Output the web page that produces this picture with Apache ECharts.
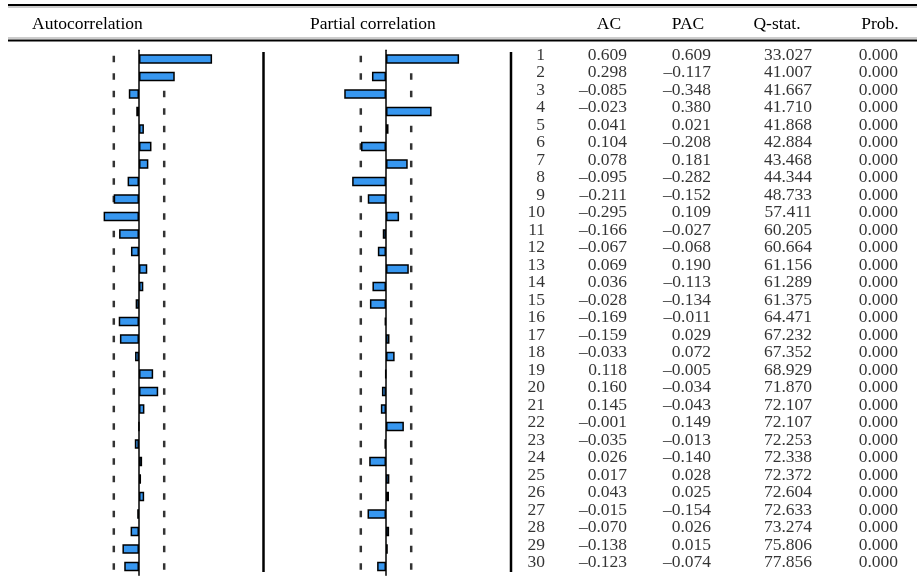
<!DOCTYPE html>
<html>
<head>
<meta charset="utf-8">
<script src="https://cdn.jsdelivr.net/npm/echarts@6/dist/echarts.min.js"></script>
<style>
html,body{margin:0;padding:0;background:#fff;}
#chart{width:917px;height:578px;}
</style>
</head>
<body>
<div id="chart"></div>
<script>
// ---- data ----
const lags = [1,2,3,4,5,6,7,8,9,10,11,12,13,14,15,16,17,18,19,20,21,22,23,24,25,26,27,28,29,30];
// printed AC column
const acValues = [0.609,0.298,-0.085,-0.023,0.041,0.104,0.078,-0.095,-0.211,-0.295,-0.166,-0.067,0.069,0.036,-0.028,-0.169,-0.159,-0.033,0.118,0.160,0.145,-0.001,-0.035,0.026,0.017,0.043,-0.015,-0.070,-0.138,-0.123];
// AC bars as drawn in the picture (lag 21 bar is short)
const acBarValues = [0.609,0.298,-0.085,-0.023,0.041,0.104,0.078,-0.095,-0.211,-0.295,-0.166,-0.067,0.069,0.036,-0.028,-0.169,-0.159,-0.033,0.118,0.160,0.045,-0.001,-0.035,0.026,0.017,0.043,-0.015,-0.070,-0.138,-0.123];
const pacValues = [0.609,-0.117,-0.348,0.380,0.021,-0.208,0.181,-0.282,-0.152,0.109,-0.027,-0.068,0.190,-0.113,-0.134,-0.011,0.029,0.072,-0.005,-0.034,-0.043,0.149,-0.013,-0.140,0.028,0.025,-0.154,0.026,0.015,-0.074];
const qStat = [33.027,41.007,41.667,41.710,41.868,42.884,43.468,44.344,48.733,57.411,60.205,60.664,61.156,61.289,61.375,64.471,67.232,67.352,68.929,71.870,72.107,72.107,72.253,72.338,72.372,72.604,72.633,73.274,75.806,77.856];
const probValues = [0,0,0,0,0,0,0,0,0,0,0,0,0,0,0,0,0,0,0,0,0,0,0,0,0,0,0,0,0,0];
const confBound = 0.21;
const panelTitles = ['Autocorrelation','Partial correlation'];
const colHeaders = ['AC','PAC','Q-stat.','Prob.'];

// ---- layout/style ----
const FONT = 'Liberation Serif';
const FS = 17.5;
const BLUE = '#3797f0';
const rowPitch = 17.5;
const barTop = 50.25, textTop = 46.25;
const gridH = rowPitch * lags.length;

function fmt(v){ const s = v.toFixed(3); return s.charAt(0)==='-' ? '\u2013' + s.slice(1) : s; }

const chart = echarts.init(document.getElementById('chart'), null, {renderer:'canvas'});

const catY = (gi) => ({
  type:'category', gridIndex:gi, data:lags.map(String), inverse:true,
  axisLabel:{show:false}, axisTick:{show:false}, splitLine:{show:false},
  axisLine:{show: gi<2, onZero:true, lineStyle:{color:'#000', width:1.5}}
});
const valX = (gi, min, max) => ({
  type:'value', gridIndex:gi, min:min, max:max, show:false,
  splitLine:{show:false}, axisLine:{show:false}, axisLabel:{show:false}, axisTick:{show:false}
});

function boundData(){
  const d = [];
  lags.forEach((l,i)=>{ d.push([-confBound, i]); d.push([confBound, i]); });
  return d;
}
const dashSeries = (gi) => ({
  type:'scatter', xAxisIndex:gi, yAxisIndex:gi, data:boundData(), symbol:'rect',
  symbolSize:[2.5,6.5], itemStyle:{color:'#000'}, silent:true, z:1, animation:false
});
const barSeries = (gi, vals) => ({
  type:'bar', xAxisIndex:gi, yAxisIndex:gi, data:vals, barWidth:9.5,
  itemStyle:{color:BLUE, borderColor:'#000', borderWidth:1.5},
  silent:true, z:3, animation:false
});

// table columns: right-edge x of each column
const tableCols = [
  {x:545, texts: lags.map(String)},
  {x:627, texts: acValues.map(fmt)},
  {x:711, texts: pacValues.map(fmt)},
  {x:812, texts: qStat.map(v=>v.toFixed(3))},
  {x:898, texts: probValues.map(v=>v.toFixed(3))}
];
const textSeries = tableCols.map(c => ({
  type:'scatter', xAxisIndex:2, yAxisIndex:2, symbolSize:0, silent:true, animation:false,
  data: c.texts.map((t,i)=>[c.x, i, t]),
  label:{show:true, position:'left', distance:0, formatter:p=>p.value[2],
    fontFamily:FONT, fontSize:FS, color:'#000'}
}));

const headerCenters = [609, 688, 777, 880];

const graphics = [
  {type:'rect', shape:{x:8,y:4,width:909,height:2}, style:{fill:'#000'}, silent:true},
  {type:'rect', shape:{x:8,y:6.5,width:909,height:1}, style:{fill:'#9a9a9a'}, silent:true},
  {type:'rect', shape:{x:8,y:37.5,width:909,height:1}, style:{fill:'#9a9a9a'}, silent:true},
  {type:'rect', shape:{x:8,y:39.5,width:909,height:2}, style:{fill:'#000'}, silent:true},
  {type:'line', shape:{x1:263.5,y1:52,x2:263.5,y2:572}, style:{stroke:'#000', lineWidth:2.5}, silent:true},
  {type:'line', shape:{x1:511,y1:52,x2:511,y2:572}, style:{stroke:'#000', lineWidth:2.5}, silent:true},
  {type:'text', x:32, y:24, style:{text:panelTitles[0], font:FS+'px "'+FONT+'"', fill:'#000', textAlign:'left', textVerticalAlign:'middle'}, silent:true},
  {type:'text', x:310, y:24, style:{text:panelTitles[1], font:FS+'px "'+FONT+'"', fill:'#000', textAlign:'left', textVerticalAlign:'middle'}, silent:true}
];
colHeaders.forEach((h,i)=>{
  graphics.push({type:'text', x:headerCenters[i], y:24, style:{text:h, font:FS+'px "'+FONT+'"', fill:'#000', textAlign:'center', textVerticalAlign:'middle'}, silent:true});
});

chart.setOption({
  animation:false,
  backgroundColor:'#fff',
  grid:[
    {left:19, width:240, top:barTop, height:gridH},
    {left:266, width:240, top:barTop, height:gridH},
    {left:0, width:917, top:textTop, height:gridH}
  ],
  xAxis:[valX(0,-1,1), valX(1,-1,1), valX(2,0,917)],
  yAxis:[catY(0), catY(1), catY(2)],
  series:[dashSeries(0), dashSeries(1), barSeries(0, acBarValues), barSeries(1, pacValues)].concat(textSeries),
  graphic:graphics
});
</script>
</body>
</html>
